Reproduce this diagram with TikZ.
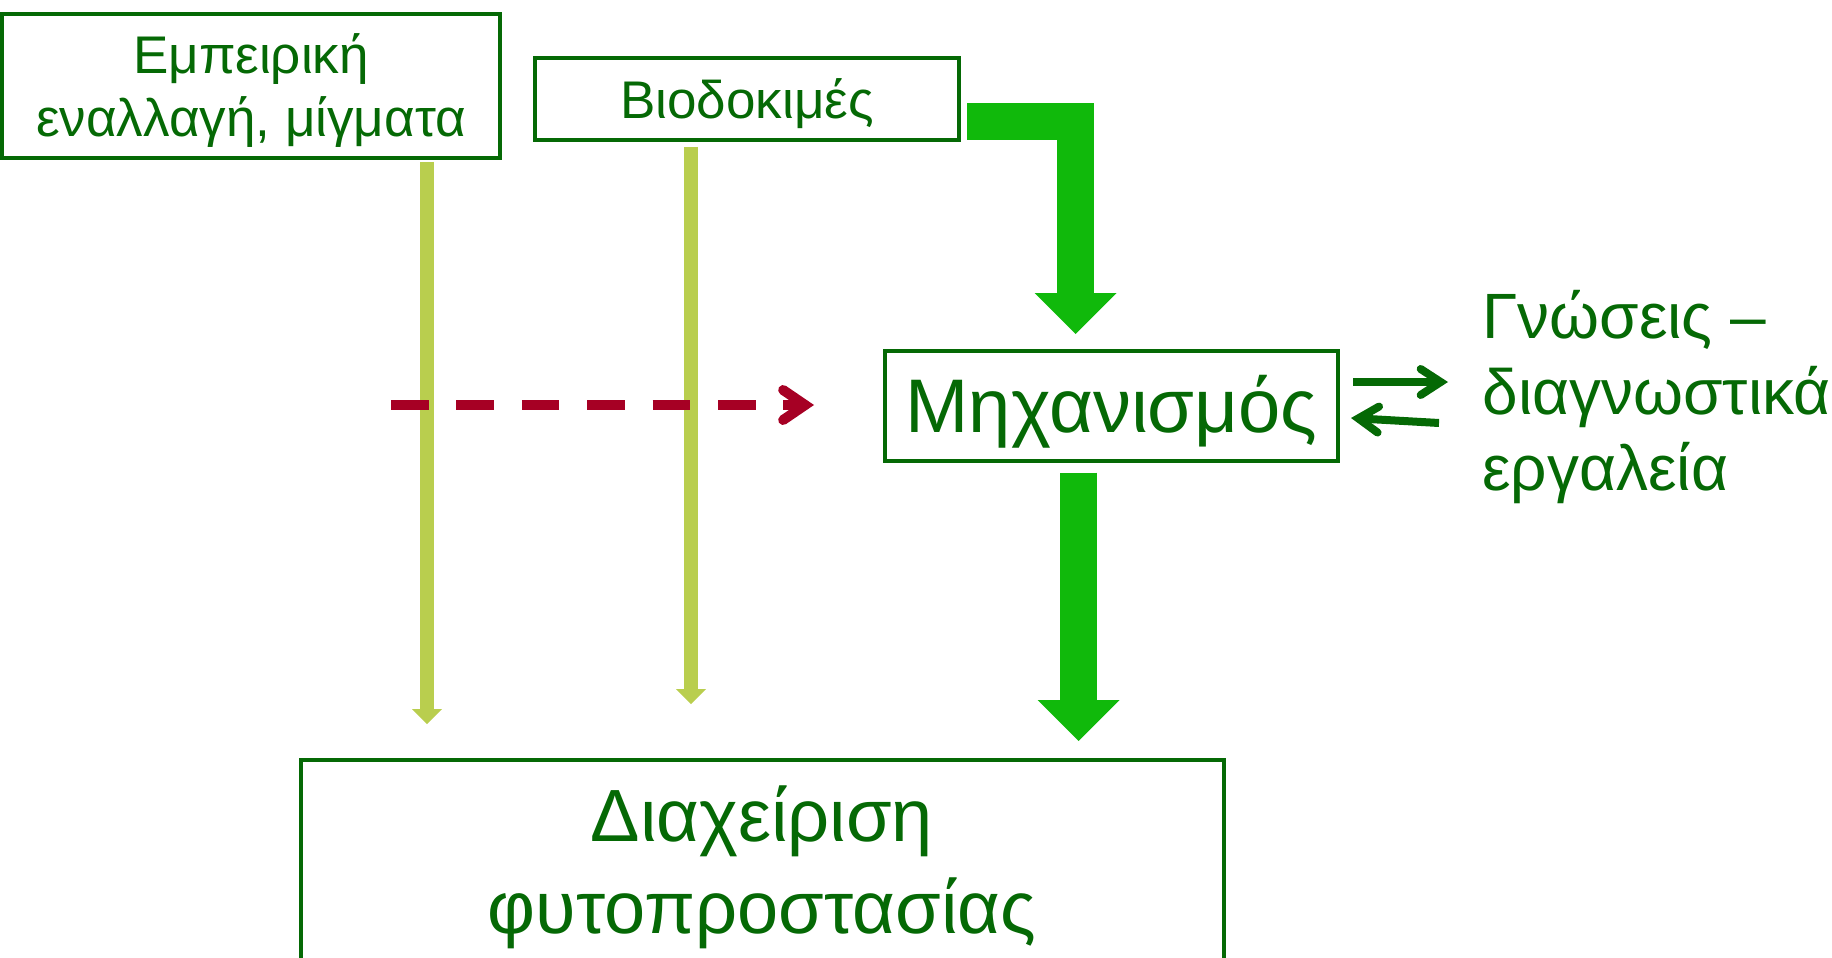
\documentclass[tikz,border=0pt]{standalone}
\usepackage{fontspec}
\setmainfont{Liberation Sans}
\usetikzlibrary{arrows.meta}
\definecolor{dkgreen}{RGB}{5,105,5}
\definecolor{brgreen}{RGB}{16,185,11}
\definecolor{olivegr}{RGB}{185,206,78}
\definecolor{darkred}{RGB}{166,0,36}
\tikzset{
  box/.style={draw=dkgreen, line width=1.8pt, text=dkgreen, align=center, inner sep=0pt, text depth=0pt},
  olivearrow/.style={draw=olivegr, line width=7pt,
    -{Triangle[width=15pt,length=7.5pt,line width=0pt]}},
  fatarrow/.style={draw=brgreen, line width=18.5pt, line join=miter,
    -{Triangle[width=41pt,length=20.5pt,line width=0pt]}},
  reddash/.style={draw=darkred, line width=5pt, dash pattern=on 18.8pt off 13.9pt,
    -{Straight Barb[length=11pt,width=15pt,line cap=round,line join=miter]}},
  smallarrow/.style={draw=dkgreen, line width=4pt,
    -{Straight Barb[length=10pt,width=13pt,line cap=round,line join=miter]}},
}
\begin{document}
\begin{tikzpicture}[x=0.5pt,y=-0.5pt]
\useasboundingbox (0,0) rectangle (1832,958);
% boxes
\node[box, minimum width=249.25pt, minimum height=72.25pt, text height=50.5pt,
      font=\fontsize{26.5}{31.5}\selectfont] (emp) at (251,86)
      {Εμπειρική\\εναλλαγή, μίγματα};
\node[box, minimum width=212pt, minimum height=41pt, text height=19pt,
      font=\fontsize{26.5}{31.5}\selectfont] (bio) at (747,99) {Βιοδοκιμές};
\node[box, line width=2pt, minimum width=226.5pt, minimum height=55pt, text height=27pt,
      font=\fontsize{38}{45}\selectfont] (mech) at (1111.5,405.5) {Μηχανισμός};
\node[box, line width=2pt, minimum width=461.5pt, minimum height=100.75pt, text height=72pt,
      font=\fontsize{37}{46}\selectfont] (mgmt) at (762,861)
      {Διαχείριση\\φυτοπροστασίας};
\node[anchor=base west, text=dkgreen, align=left, inner sep=0pt,
      font=\fontsize{32}{38}\selectfont] (gn) at (1482,490)
      {Γνώσεις –\\διαγνωστικά\\εργαλεία};
% coordinates for free ends
\coordinate (a1e) at (427,724);
\coordinate (a2e) at (691,704);
\coordinate (r0) at (391,405);
\coordinate (f0) at (967,121.5);
\coordinate (f1) at (1075.5,334);
\coordinate (g1) at (1078.5,741);
\coordinate (s1) at (1353,382);
\coordinate (s2) at (1448,382);
\coordinate (t1) at (1439,423);
\coordinate (t2) at (1351,418);
% connectors
\draw[olivearrow, shorten <=0.9pt] (emp.south -| a1e) -- (a1e);
\draw[olivearrow, shorten <=2.5pt] (bio.south -| a2e) -- (a2e);
\draw[reddash, shorten >=34.5pt] (r0) -- (mech.west |- r0);
\draw[fatarrow] (f0) -| (f1);
\draw[fatarrow, shorten <=5pt] (mech.south -| g1) -- (g1);
\draw[smallarrow] (s1) -- (s2);
\draw[smallarrow] (t1) -- (t2);
\end{tikzpicture}
\end{document}
